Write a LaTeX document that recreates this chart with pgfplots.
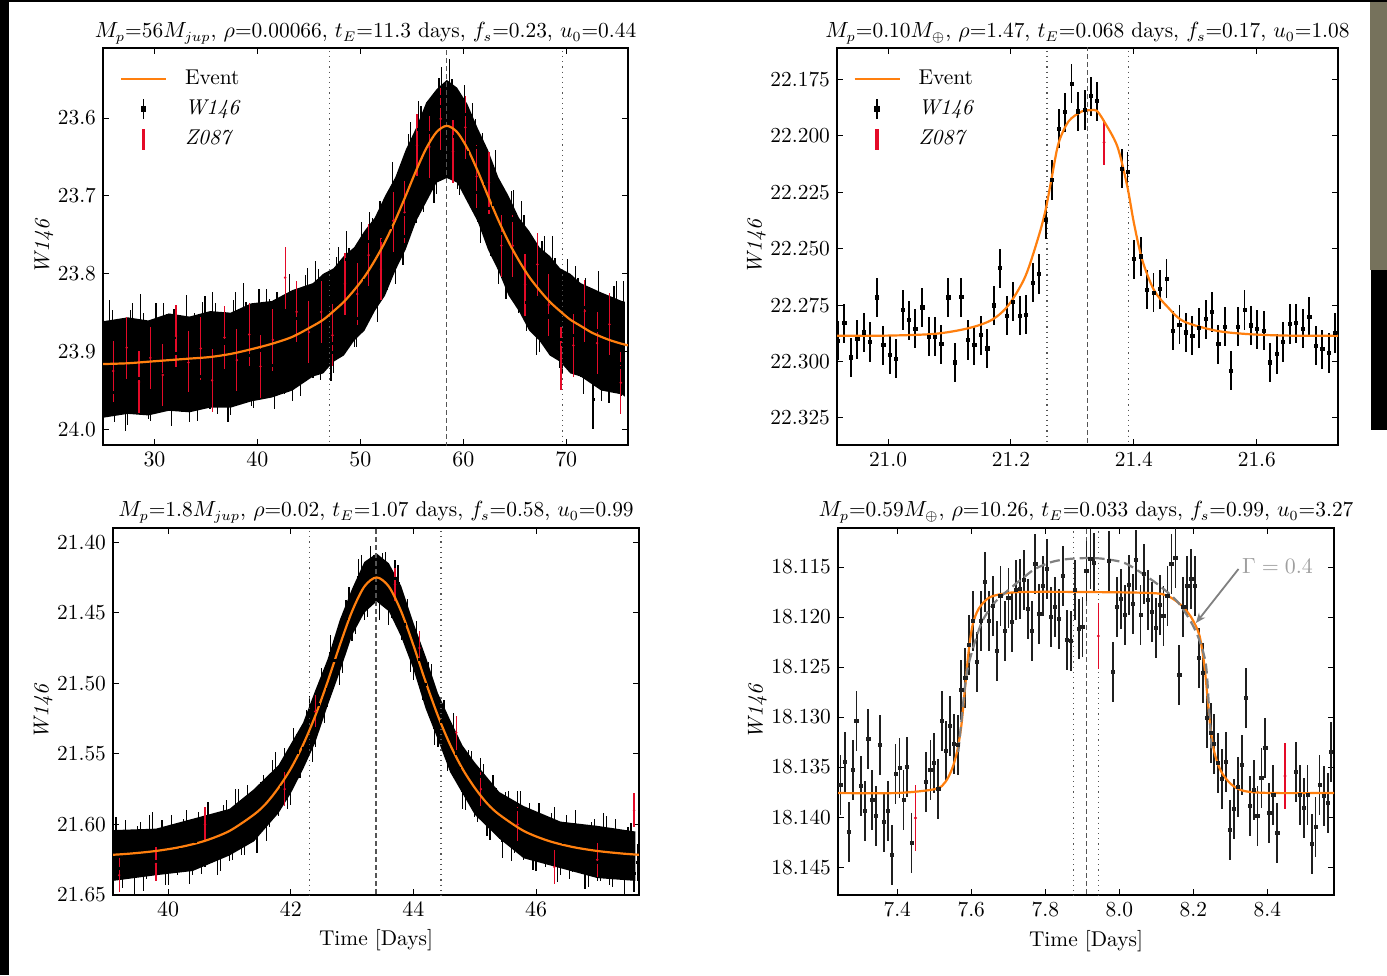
\documentclass[border=0pt]{standalone}
\usepackage{pgfplots}
\pgfplotsset{compat=1.18}
\usetikzlibrary{arrows.meta}
\definecolor{evorange}{RGB}{255,127,14}
\definecolor{zred}{RGB}{228,10,40}
\definecolor{vgray}{RGB}{85,85,85}
\definecolor{photo}{RGB}{118,114,92}
\newcommand{\fs}{\fontsize{10.7}{12.8}\selectfont}
\pgfplotsset{
 lc/.style={scale only axis, anchor=south west, y dir=reverse,
   tick align=inside, major tick length=3pt, minor tick num=0,
   every tick/.style={black, line width=0.5pt},
   axis line style={black, line width=0.75pt},
   tick label style={font=\fs},
   label style={font=\fs},
   title style={font=\fs},
   ylabel={\textit{W146}}, ylabel shift={-4.5pt},
   legend style={draw=none, fill=none, font=\fs, at={(0.02,0.965)}, anchor=north west, row sep=2.2pt},
   legend cell align=left,
   clip=true},
 vdot/.style={vgray, dotted, line width=0.6pt, forget plot},
 vdash/.style={vgray, dash pattern=on 2.5pt off 1.5pt, line width=0.6pt, forget plot},
 model/.style={evorange, line width=1.1pt, smooth, forget plot},
 leg/.code={
  \addlegendimage{legend image code/.code={\draw[evorange,line width=1.1pt] (0pt,0pt) -- (22.5pt,0pt); \path[draw=none,fill=none] (0pt,0pt) -- (29pt,0pt);}}
  \addlegendentry{Event}
  \addlegendimage{legend image code/.code={\draw[black,line width=0.9pt] (11.2pt,-5pt) -- (11.2pt,5pt); \fill[black] (10.1pt,-1.1pt) rectangle (12.3pt,1.1pt); \path[draw=none,fill=none] (0pt,0pt) -- (30pt,0pt);}}
  \addlegendentry{\textit{W146}}
  \addlegendimage{legend image code/.code={\fill[zred] (10.6pt,-5pt) rectangle (11.8pt,5pt); \path[draw=none,fill=none] (0pt,0pt) -- (30pt,0pt);}}
  \addlegendentry{\textit{Z087}}
 },
}
\begin{document}
\begin{tikzpicture}
\fill[white] (0,0) rectangle (693.5pt,487.5pt);
\fill[black] (0,0) rectangle (4.5pt,487.5pt);
\fill[black] (0,486.5pt) rectangle (693.5pt,487.5pt);
\fill[photo] (685pt,352.5pt) rectangle (693.5pt,486.5pt);
\fill[black] (685.5pt,272.5pt) rectangle (693.5pt,352.5pt);

% ---------------- top left ----------------
\begin{axis}[lc, at={(51.5pt,265pt)}, width=262.5pt, height=198.5pt,
  xmin=25, xmax=76, ymin=23.51, ymax=24.02,
  xtick={30,40,50,60,70},
  ytick={23.6,23.7,23.8,23.9,24.0}, yticklabels={23.6,23.7,23.8,23.9,24.0},
  title style={yshift=-7.5pt},
  title={$M_p$=56$M_{jup}$, $\rho$=0.00066, $t_E$=11.3 days, $f_s$=0.23, $u_0$=0.44}]
\pgfplotsset{leg}
\addplot[fill=black, draw=none, forget plot] coordinates {
(25.0,23.861) (27.4,23.856) (29.4,23.860) (31.4,23.851) (33.4,23.855) (35.4,23.848) (37.4,23.850) (39.4,23.838) (41.4,23.835) (43.4,23.821) (45.4,23.812) (46.4,23.800) (47.4,23.793) (48.4,23.777) (49.4,23.766) (50.4,23.745) (51.4,23.728) (52.4,23.700) (53.4,23.676) (54.4,23.641) (55.4,23.613) (56.4,23.580) (57.4,23.563) (58.4,23.551) (59.4,23.561) (60.4,23.582) (61.4,23.613) (62.4,23.641) (63.4,23.676) (64.4,23.700) (65.4,23.728) (66.4,23.745) (67.4,23.766) (68.4,23.777) (69.4,23.793) (70.4,23.800) (71.4,23.812) (73.4,23.824) (75.4,23.835) (75.7,23.836)
(75.7,23.958) (75.4,23.955) (73.4,23.950) (71.4,23.932) (70.4,23.928) (69.4,23.913) (68.4,23.905) (67.4,23.886) (66.4,23.873) (65.4,23.848) (64.4,23.828) (63.4,23.796) (62.4,23.769) (61.4,23.733) (60.4,23.708) (59.4,23.683) (58.4,23.677) (57.4,23.683) (56.4,23.708) (55.4,23.733) (54.4,23.769) (53.4,23.796) (52.4,23.828) (51.4,23.848) (50.4,23.873) (49.4,23.886) (48.4,23.905) (47.4,23.913) (46.4,23.928) (45.4,23.932) (43.4,23.950) (41.4,23.959) (39.4,23.964) (37.4,23.972) (35.4,23.972) (33.4,23.978) (31.4,23.976) (29.4,23.982) (27.4,23.980) (25.0,23.985)} -- cycle;
\addplot[only marks, mark=square*, mark size=0.5pt, black, forget plot,
  error bars/.cd, y dir=both, y fixed=0.037, error mark=none, error bar style={line width=0.6pt, black}]
 table {
t m
25.4 23.946
25.65 23.871
25.9 23.884
26.15 23.953
26.4 23.927
26.65 23.900
26.9 23.897
27.15 23.965
27.4 23.957
27.65 23.884
27.9 23.874
28.15 23.936
28.4 23.934
28.65 23.863
28.9 23.888
29.15 23.921
29.4 23.949
29.65 23.952
29.9 23.902
30.15 23.874
30.4 23.917
30.65 23.929
30.9 23.875
31.15 23.889
31.4 23.939
31.65 23.958
31.9 23.882
32.15 23.902
32.4 23.926
32.65 23.941
32.9 23.904
33.15 23.864
33.4 23.954
33.65 23.918
33.9 23.888
34.15 23.952
34.4 23.932
34.65 23.873
34.9 23.865
35.15 23.933
35.4 23.937
35.65 23.861
35.9 23.874
36.15 23.943
36.4 23.917
36.65 23.889
36.9 23.886
37.15 23.953
37.4 23.945
37.65 23.871
37.9 23.861
38.15 23.922
38.4 23.920
38.65 23.849
38.9 23.873
39.15 23.905
39.4 23.933
39.65 23.936
39.9 23.885
40.15 23.856
40.4 23.899
40.65 23.911
40.9 23.856
41.15 23.869
41.4 23.918
41.65 23.937
41.9 23.860
42.15 23.879
42.4 23.902
42.65 23.917
42.9 23.879
43.15 23.837
43.4 23.926
43.65 23.889
43.9 23.858
44.15 23.920
44.4 23.899
44.65 23.839
44.9 23.829
45.15 23.895
45.4 23.897
45.65 23.820
45.9 23.831
46.15 23.899
46.4 23.871
46.65 23.841
46.9 23.836
47.15 23.901
47.4 23.890
47.65 23.815
47.9 23.802
48.15 23.861
48.4 23.856
48.65 23.782
48.9 23.804
49.15 23.833
49.4 23.857
49.65 23.857
49.9 23.803
50.15 23.770
50.4 23.809
50.65 23.817
50.9 23.758
51.15 23.766
51.4 23.811
51.65 23.825
51.9 23.743
52.15 23.757
52.4 23.775
52.65 23.784
52.9 23.740
53.15 23.693
53.4 23.776
53.65 23.733
53.9 23.696
54.15 23.752
54.4 23.724
54.65 23.658
54.9 23.642
55.15 23.702
55.4 23.698
55.65 23.615
55.9 23.621
56.15 23.684
56.4 23.651
56.65 23.618
56.9 23.609
57.15 23.672
57.4 23.660
57.65 23.585
57.9 23.572
58.15 23.633
58.4 23.630
58.65 23.561
58.9 23.587
59.15 23.623
59.4 23.654
59.65 23.662
59.9 23.617
60.15 23.595
60.4 23.644
60.65 23.664
60.9 23.617
61.15 23.638
61.4 23.696
61.65 23.724
61.9 23.656
62.15 23.684
62.4 23.716
62.65 23.740
62.9 23.711
63.15 23.678
63.4 23.776
63.65 23.748
63.9 23.725
64.15 23.796
64.4 23.783
64.65 23.731
64.9 23.729
65.15 23.803
65.4 23.813
65.65 23.743
65.9 23.762
66.15 23.837
66.4 23.816
66.65 23.793
66.9 23.795
67.15 23.867
67.4 23.863
67.65 23.795
67.9 23.789
68.15 23.854
68.4 23.856
68.65 23.789
68.9 23.817
69.15 23.853
69.4 23.884
69.65 23.891
69.9 23.844
70.15 23.818
70.4 23.864
70.65 23.879
70.9 23.827
71.15 23.843
71.4 23.895
71.65 23.917
71.9 23.843
72.15 23.865
72.4 23.891
72.6 23.962
72.9 23.873
73.15 23.834
73.4 23.926
73.65 23.892
73.9 23.864
74.15 23.929
74.4 23.910
74.65 23.853
74.9 23.846
75.15 23.915
75.4 23.920
75.6 23.846
};
\addplot[only marks, mark=*, mark size=0.4pt, zred, forget plot,
  error bars/.cd, y dir=both, y fixed=0.04, error mark=none, error bar style={line width=0.6pt, zred}]
 table {
t m
26.0 23.925
27.3 23.895
28.5 23.939
29.6 23.908
30.8 23.930
32.1 23.880
33.3 23.914
34.5 23.896
35.6 23.937
36.8 23.882
38.0 23.911
39.2 23.878
40.3 23.919
41.5 23.885
42.7 23.805
43.8 23.849
45.0 23.875
46.2 23.849
47.3 23.879
48.5 23.813
49.7 23.826
50.8 23.776
52.0 23.794
53.2 23.732
54.3 23.721
55.5 23.635
56.7 23.637
57.8 23.601
59.0 23.643
60.2 23.612
61.3 23.675
62.5 23.683
63.7 23.764
64.8 23.764
66.0 23.814
67.2 23.788
68.3 23.840
69.5 23.909
70.7 23.892
71.8 23.848
73.0 23.889
74.2 23.865
75.3 23.940
};
\addplot[vdot] coordinates {(47.0,23.4) (47.0,24.1)};
\addplot[vdash] coordinates {(58.35,23.4) (58.35,24.1)};
\addplot[vdot] coordinates {(69.65,23.4) (69.65,24.1)};
\addplot[model] coordinates {(25,23.916) (27.4,23.915) (29.4,23.913) (31.4,23.911) (33.4,23.909) (35.4,23.907) (37.4,23.903) (39.4,23.897) (41.4,23.890) (43.4,23.881) (45.4,23.867) (46.4,23.859) (47.4,23.848) (48.4,23.836) (49.4,23.821) (50.4,23.804) (51.4,23.783) (52.4,23.759) (53.4,23.731) (54.4,23.700) (55.4,23.668) (56.4,23.639) (57.4,23.618) (58.4,23.610) (59.4,23.618) (60.4,23.639) (61.4,23.668) (62.4,23.700) (63.4,23.731) (64.4,23.759) (65.4,23.783) (66.4,23.804) (67.4,23.821) (68.4,23.836) (69.4,23.848) (70.4,23.859) (71.4,23.867) (72.4,23.875) (73.4,23.881) (74.4,23.886) (75.4,23.890) (76,23.892)};
\end{axis}

% ---------------- top right ----------------
\begin{axis}[lc, at={(418.5pt,265pt)}, width=250.5pt, height=198.5pt,
  xmin=20.917, xmax=21.732, ymin=22.161, ymax=22.337,
  xtick={21.0,21.2,21.4,21.6}, xticklabels={21.0,21.2,21.4,21.6},
  ytick={22.175,22.2,22.225,22.25,22.275,22.3,22.325},
  yticklabels={22.175,22.200,22.225,22.250,22.275,22.300,22.325},
  title style={yshift=-7.5pt},
  title={$M_p$=0.10$M_{\oplus}$, $\rho$=1.47, $t_E$=0.068 days, $f_s$=0.17, $u_0$=1.08}]
\pgfplotsset{leg}
\addplot[vdot] coordinates {(21.2585,22.1) (21.2585,22.4)};
\addplot[vdash] coordinates {(21.3245,22.1) (21.3245,22.4)};
\addplot[vdot] coordinates {(21.3918,22.1) (21.3918,22.4)};
\addplot[only marks, mark=square*, mark size=0.8pt, black, forget plot,
  error bars/.cd, y dir=both, y fixed=0.0087, error mark=none, error bar style={line width=0.9pt, black}]
 table {
t m
20.9187 22.2908
20.9290 22.2830
20.9393 22.2982
20.9501 22.2901
20.9604 22.2871
20.9707 22.2913
20.9816 22.2716
20.9924 22.2928
21.0027 22.2970
21.0130 22.2987
21.0238 22.2772
21.0341 22.2817
21.0444 22.2854
21.0558 22.2760
21.0661 22.2889
21.0764 22.2889
21.0867 22.2923
21.0981 22.2716
21.1084 22.3004
21.1192 22.2715
21.1295 22.2905
21.1404 22.2928
21.1507 22.2883
21.1615 22.2942
21.1718 22.2751
21.1821 22.2586
21.1930 22.2797
21.2033 22.2735
21.2141 22.2796
21.2244 22.2793
21.2352 22.2651
21.2455 22.2612
21.2564 22.2371
21.2667 22.2195
21.2775 22.1967
21.2878 22.1895
21.2986 22.1769
21.3089 22.1891
21.3198 22.1885
21.3301 22.1824
21.3395 22.1846
21.3800 22.2145
21.3897 22.2160
21.4005 22.2546
21.4114 22.2534
21.4216 22.2682
21.4319 22.2694
21.4427 22.2679
21.4530 22.2632
21.4638 22.2864
21.4741 22.2837
21.4849 22.2871
21.4951 22.2885
21.5059 22.2851
21.5168 22.2812
21.5270 22.2780
21.5373 22.2923
21.5481 22.2845
21.5584 22.3041
21.5692 22.2846
21.5800 22.2772
21.5903 22.2840
21.6005 22.2857
21.6114 22.2864
21.6216 22.3004
21.6324 22.2967
21.6427 22.2913
21.6535 22.2834
21.6638 22.2830
21.6746 22.2854
21.6854 22.2802
21.6957 22.2929
21.7065 22.2945
21.7168 22.2962
21.7270 22.2874
};
\addplot[only marks, mark=*, mark size=0.5pt, zred, forget plot,
  error bars/.cd, y dir=both, y fixed=0.0099, error mark=none, error bar style={line width=0.7pt, zred}]
 coordinates {(21.3514,22.2028)};
\addplot[model] coordinates {(20.917,22.2886) (21.0,22.2885) (21.077,22.2877) (21.1312,22.2852) (21.1691,22.2815) (21.1962,22.2749) (21.2233,22.2623) (21.245,22.2445) (21.2564,22.2327) (21.2667,22.2179) (21.2775,22.2031) (21.2938,22.1935) (21.3154,22.1891) (21.3301,22.1886) (21.3395,22.1888) (21.3514,22.1935) (21.373,22.2046) (21.3892,22.2223) (21.4,22.2386) (21.4135,22.2549) (21.4324,22.2682) (21.4541,22.2756) (21.4811,22.2822) (21.5351,22.2864) (21.5892,22.2879) (21.65,22.2885) (21.732,22.2886)};
\end{axis}

% ---------------- bottom left ----------------
\begin{axis}[lc, at={(56.5pt,40pt)}, width=263pt, height=183.5pt,
  xmin=39.1, xmax=47.68, ymin=21.39, ymax=21.65,
  xtick={40,42,44,46},
  ytick={21.40,21.45,21.50,21.55,21.60,21.65}, yticklabels={21.40,21.45,21.50,21.55,21.60,21.65},
  xlabel={Time [Days]}, title style={yshift=-7pt},
  title={$M_p$=1.8$M_{jup}$, $\rho$=0.02, $t_E$=1.07 days, $f_s$=0.58, $u_0$=0.99}]
\addplot[fill=black, draw=none, forget plot] coordinates {
(39.1,21.604) (39.8,21.603) (40.4,21.596) (41.0,21.589) (41.4,21.575) (41.8,21.558) (42.0,21.543) (42.2,21.528) (42.4,21.505) (42.6,21.483) (42.8,21.455) (43.0,21.433) (43.2,21.414) (43.4,21.408) (43.6,21.415) (43.8,21.431) (44.0,21.457) (44.2,21.481) (44.4,21.507) (44.6,21.526) (44.8,21.544) (45.0,21.556) (45.4,21.577) (45.8,21.587) (46.4,21.598) (47.0,21.601) (47.62,21.605)
(47.62,21.640) (47.0,21.638) (46.4,21.631) (45.8,21.624) (45.4,21.610) (45.0,21.593) (44.8,21.578) (44.6,21.563) (44.4,21.540) (44.2,21.518) (44.0,21.490) (43.8,21.467) (43.6,21.449) (43.4,21.442) (43.2,21.450) (43.0,21.466) (42.8,21.492) (42.6,21.516) (42.4,21.542) (42.2,21.561) (42.0,21.578) (41.8,21.592) (41.4,21.612) (41.0,21.622) (40.4,21.633) (39.8,21.636) (39.1,21.640)} -- cycle;
\addplot[only marks, mark=square*, mark size=0.5pt, black, forget plot,
  error bars/.cd, y dir=both, y fixed=0.013, error mark=none, error bar style={line width=0.6pt, black}]
 table {
t m
39.15 21.608
39.2 21.631
39.25 21.632
39.3 21.610
39.35 21.617
39.4 21.625
39.45 21.636
39.5 21.614
39.55 21.611
39.6 21.634
39.65 21.626
39.7 21.606
39.75 21.604
39.8 21.626
39.85 21.622
39.9 21.610
39.95 21.630
40.0 21.630
40.05 21.606
40.1 21.614
40.15 21.623
40.2 21.618
40.25 21.609
40.3 21.603
40.35 21.629
40.4 21.623
40.45 21.612
40.5 21.604
40.55 21.622
40.6 21.617
40.65 21.597
40.7 21.608
40.75 21.613
40.8 21.623
40.85 21.620
40.9 21.599
40.95 21.596
41.0 21.613
41.05 21.612
41.1 21.588
41.15 21.588
41.2 21.609
41.25 21.609
41.3 21.585
41.35 21.591
41.4 21.597
41.45 21.607
41.5 21.583
41.55 21.578
41.6 21.599
41.65 21.589
41.7 21.567
41.75 21.562
41.8 21.581
41.85 21.574
41.9 21.559
41.95 21.576
42.0 21.573
42.05 21.545
42.1 21.549
42.15 21.554
42.2 21.546
42.25 21.532
42.3 21.522
42.35 21.543
42.4 21.532
42.45 21.515
42.5 21.502
42.55 21.515
42.6 21.504
42.65 21.479
42.7 21.484
42.75 21.484
42.8 21.488
42.85 21.480
42.9 21.454
42.95 21.445
43.0 21.457
43.05 21.452
43.1 21.425
43.15 21.422
43.2 21.442
43.25 21.440
43.3 21.416
43.35 21.422
43.4 21.429
43.45 21.442
43.5 21.421
43.55 21.420
43.6 21.446
43.65 21.441
43.7 21.426
43.75 21.429
43.8 21.456
43.85 21.458
43.9 21.453
43.95 21.479
44.0 21.485
44.05 21.469
44.1 21.483
44.15 21.499
44.2 21.501
44.25 21.498
44.3 21.499
44.35 21.531
44.4 21.532
44.45 21.527
44.5 21.525
44.55 21.549
44.6 21.549
44.65 21.534
44.7 21.550
44.75 21.560
44.8 21.576
44.85 21.577
44.9 21.560
44.95 21.561
45.0 21.582
45.05 21.585
45.1 21.566
45.15 21.570
45.2 21.595
45.25 21.598
45.3 21.578
45.35 21.587
45.4 21.597
45.45 21.611
45.5 21.590
45.55 21.589
45.6 21.613
45.65 21.607
45.7 21.589
45.75 21.589
45.8 21.612
45.85 21.609
45.9 21.598
45.95 21.619
46.0 21.620
46.05 21.598
46.1 21.607
46.15 21.617
46.2 21.614
46.25 21.605
46.3 21.601
46.35 21.628
46.4 21.623
46.45 21.613
46.5 21.606
46.55 21.626
46.6 21.621
46.65 21.603
46.7 21.615
46.75 21.621
46.8 21.633
46.85 21.631
46.9 21.611
46.95 21.609
47.0 21.627
47.05 21.627
47.1 21.605
47.15 21.607
47.2 21.630
47.25 21.631
47.3 21.609
47.35 21.616
47.4 21.625
47.45 21.637
47.5 21.615
47.55 21.612
47.6 21.635
47.65 21.627
};
\addplot[only marks, mark=*, mark size=0.4pt, zred, forget plot,
  error bars/.cd, y dir=both, y fixed=0.012, error mark=none, error bar style={line width=0.6pt, zred}]
 table {
t m
39.2 21.636
39.8 21.628
40.6 21.600
41.9 21.575
42.4 21.520
43.7 21.430
44.1 21.475
44.7 21.535
45.1 21.575
45.7 21.600
46.3 21.630
47.0 21.625
47.6 21.590
};
\addplot[vdot] coordinates {(42.31,21.3) (42.31,21.7)};
\addplot[vdash] coordinates {(43.39,21.3) (43.39,21.7)};
\addplot[vdot] coordinates {(44.45,21.3) (44.45,21.7)};
\addplot[model] coordinates {(39.1,21.6215) (39.4,21.6206) (39.8,21.6188) (40.2,21.616) (40.6,21.6116) (41.0,21.6046) (41.4,21.593) (41.6,21.585) (41.8,21.574) (42.0,21.5605) (42.2,21.5436) (42.4,21.523) (42.6,21.499) (42.8,21.473) (43.0,21.449) (43.2,21.4315) (43.4,21.425) (43.6,21.4315) (43.8,21.449) (44.0,21.473) (44.2,21.499) (44.4,21.523) (44.6,21.5436) (44.8,21.5605) (45.0,21.574) (45.2,21.585) (45.4,21.593) (45.8,21.6046) (46.2,21.6116) (46.6,21.616) (47.0,21.6188) (47.4,21.6206) (47.68,21.6215)};
\end{axis}

% ---------------- bottom right ----------------
\begin{axis}[lc, at={(419pt,40pt)}, width=248pt, height=183.5pt,
  xmin=7.24, xmax=8.58, ymin=18.1111, ymax=18.1478,
  xtick={7.4,7.6,7.8,8.0,8.2,8.4}, xticklabels={7.4,7.6,7.8,8.0,8.2,8.4},
  ytick={18.115,18.12,18.125,18.13,18.135,18.14,18.145},
  yticklabels={18.115,18.120,18.125,18.130,18.135,18.140,18.145},
  xlabel={Time [Days]}, title style={yshift=-7pt},
  title={$M_p$=0.59$M_{\oplus}$, $\rho$=10.26, $t_E$=0.033 days, $f_s$=0.99, $u_0$=3.27}]
\addplot[vdot] coordinates {(7.876,18.1) (7.876,18.16)};
\addplot[vdash] coordinates {(7.911,18.1) (7.911,18.16)};
\addplot[vdot] coordinates {(7.943,18.1) (7.943,18.16)};
\addplot[only marks, mark=square*, mark size=0.8pt, black!88, forget plot,
  error bars/.cd, y dir=both, y fixed=0.003, error mark=none, error bar style={line width=0.9pt, black!88}]
 table {
t m
7.2466 18.1368
7.2583 18.1345
7.2691 18.1415
7.2798 18.1353
7.2897 18.1304
7.3013 18.1369
7.3121 18.1394
7.3220 18.1322
7.3327 18.1383
7.3426 18.1399
7.3534 18.1328
7.3641 18.1405
7.3749 18.1394
7.3848 18.1438
7.3955 18.1357
7.4063 18.1351
7.4170 18.1383
7.4269 18.1350
7.4386 18.1426
7.4780 18.1365
7.4897 18.1353
7.4996 18.1346
7.5112 18.1372
7.5211 18.1304
7.5309 18.1334
7.5426 18.1309
7.5534 18.1327
7.5641 18.1328
7.5731 18.1273
7.5839 18.1261
7.5946 18.1228
7.6054 18.1204
7.6161 18.1245
7.6269 18.1204
7.6368 18.1165
7.6484 18.1204
7.6583 18.1189
7.6691 18.1234
7.6789 18.1179
7.6906 18.1214
7.7004 18.1181
7.7103 18.1205
7.7211 18.1173
7.7309 18.1172
7.7426 18.1163
7.7525 18.1192
7.7632 18.1214
7.7731 18.1147
7.7839 18.1197
7.7946 18.1169
7.8054 18.1152
7.8161 18.1200
7.8269 18.1190
7.8368 18.1202
7.8475 18.1159
7.8583 18.1223
7.8691 18.1224
7.8798 18.1173
7.8906 18.1212
7.9004 18.1210
7.9112 18.1154
7.9220 18.1142
7.9318 18.1146
7.9713 18.1144
7.9830 18.1255
7.9928 18.1190
8.0036 18.1182
8.0143 18.1198
8.0251 18.1168
8.0359 18.1187
8.0457 18.1143
8.0574 18.1198
8.0673 18.1157
8.0780 18.1183
8.0888 18.1195
8.0987 18.1211
8.1094 18.1188
8.1193 18.1199
8.1300 18.1179
8.1408 18.1147
8.1516 18.1141
8.1623 18.1258
8.1731 18.1190
8.1839 18.1169
8.1946 18.1162
8.2045 18.1169
8.2152 18.1241
8.2260 18.1256
8.2359 18.1301
8.2466 18.1316
8.2565 18.1327
8.2673 18.1346
8.2780 18.1362
8.2888 18.1345
8.2996 18.1413
8.3094 18.1392
8.3202 18.1370
8.3309 18.1348
8.3417 18.1281
8.3525 18.1389
8.3632 18.1373
8.3731 18.1399
8.3839 18.1361
8.3946 18.1331
8.4054 18.1396
8.4161 18.1378
8.4269 18.1416
8.4771 18.1355
8.4879 18.1378
8.4987 18.1391
8.5085 18.1378
8.5202 18.1427
8.5300 18.1410
8.5408 18.1368
8.5525 18.1379
8.5632 18.1386
8.5722 18.1335
};
\addplot[only marks, mark=*, mark size=0.5pt, zred, forget plot,
  error bars/.cd, y dir=both, y fixed=0.0033, error mark=none, error bar style={line width=0.7pt, zred}]
 table {
t m
7.4493 18.1401
7.9435 18.1219
8.4475 18.1359
};
\addplot[model] coordinates {(7.234,18.1376) (7.40,18.1376) (7.5031,18.1372) (7.53,18.1365) (7.548,18.1352) (7.5614,18.1335) (7.5731,18.1309) (7.5839,18.1268) (7.5928,18.1235) (7.6036,18.1208) (7.6197,18.1192) (7.6466,18.1181) (7.6825,18.1177) (7.7363,18.1175) (7.9067,18.1175) (8.0861,18.1176) (8.1309,18.1179) (8.1668,18.1188) (8.1937,18.1200) (8.2161,18.1218) (8.2296,18.1248) (8.2386,18.1282) (8.2457,18.1309) (8.2565,18.1335) (8.2744,18.1354) (8.3013,18.1367) (8.3372,18.1374) (8.409,18.1376) (8.58,18.1376)};
\addplot[gray, line width=1.1pt, dash pattern=on 5pt off 2.5pt, smooth, forget plot] coordinates {(7.565,18.1335) (7.5794,18.1282) (7.5883,18.1255) (7.6018,18.1235) (7.6287,18.1205) (7.6646,18.1185) (7.7004,18.1173) (7.7363,18.1162) (7.7722,18.1152) (7.817,18.1145) (7.8619,18.1142) (7.922,18.1141) (7.9605,18.1142) (8.0143,18.1146) (8.0682,18.1158) (8.113,18.1170) (8.1578,18.1185) (8.1937,18.1205) (8.2161,18.1223) (8.2341,18.1248) (8.243,18.1295) (8.25,18.1335)};
\draw[gray, line width=0.9pt, -{Stealth[length=5pt,width=4pt]}] (axis cs:8.322,18.1152) -- (axis cs:8.207,18.1206);
\node[gray!75, anchor=west, font=\fs, inner sep=1pt] at (axis cs:8.325,18.1149) {$\Gamma=0.4$};
\end{axis}
\end{tikzpicture}
\end{document}
